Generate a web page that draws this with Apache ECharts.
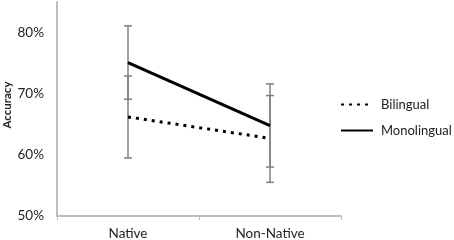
<!DOCTYPE html>
<html>
<head>
<meta charset="utf-8">
<script src="https://cdn.jsdelivr.net/npm/echarts@6/dist/echarts.min.js"></script>
<style>
  html, body { margin: 0; padding: 0; background: #fff; }
  #chart { width: 454px; height: 240px; }
</style>
</head>
<body>
<div id="chart"></div>
<script>
// data (proportion correct)
var categories = ['Native', 'Non-Native']
var bilingual = [0.662, 0.627]
var monolingual = [0.751, 0.648]
// error bar ends
var bilingualLow = [0.595, 0.555]
var bilingualHigh = [0.729, 0.697]
var monolingualLow = [0.691, 0.580]
var monolingualHigh = [0.811, 0.716]

var chart = echarts.init(document.getElementById('chart'))

// whisker with small caps
function errorBar(low, high) {
  return function (params, api) {
    var i = api.value(0)
    var top = api.coord([i, high[i]])
    var bot = api.coord([i, low[i]])
    var cap = 4
    var st = { stroke: '#808080', lineWidth: 1.5 }
    return {
      type: 'group',
      children: [
        { type: 'line', shape: { x1: top[0], y1: top[1], x2: bot[0], y2: bot[1] }, style: st },
        { type: 'line', shape: { x1: top[0] - cap, y1: top[1], x2: top[0] + cap, y2: top[1] }, style: st },
        { type: 'line', shape: { x1: bot[0] - cap, y1: bot[1], x2: bot[0] + cap, y2: bot[1] }, style: st }
      ]
    }
  }
}

var option = {
  animation: false,
  textStyle: { fontFamily: 'Lato' },
  grid: { left: 57, right: 113, top: 2, bottom: 24, outerBoundsMode: 'none' },
  legend: {
    data: ['Bilingual', 'Monolingual'],
    orient: 'vertical',
    left: 340,
    top: 98,
    padding: 0,
    itemWidth: 32,
    itemHeight: 14,
    itemGap: 13,
    itemStyle: { opacity: 0 },
    textStyle: { fontSize: 13, color: '#222', fontFamily: 'Lato', padding: [0, 0, 0, 3] }
  },
  xAxis: {
    type: 'category',
    data: categories,
    axisLine: { lineStyle: { color: '#bdbdbd', width: 2 } },
    axisTick: { show: true, length: 4, lineStyle: { color: '#bdbdbd' } },
    axisLabel: { fontSize: 13.5, color: '#222', margin: 11 }
  },
  yAxis: {
    type: 'value',
    min: 0.5,
    max: 0.85,
    interval: 0.1,
    name: 'Accuracy',
    nameLocation: 'middle',
    nameGap: 44,
    nameMoveOverlap: false,
    nameTextStyle: { fontSize: 11.5, fontWeight: 'bold', color: '#222', padding: [0, 0, 0, 8] },
    axisLine: { show: true, lineStyle: { color: '#bdbdbd', width: 2 } },
    axisTick: { show: false },
    splitLine: { show: false },
    axisLabel: {
      fontSize: 13.5,
      color: '#222',
      margin: 13,
      showMaxLabel: false,
      formatter: function (v) { return Math.round(v * 100) + '%' }
    }
  },
  series: [
    {
      type: 'custom',
      renderItem: errorBar(monolingualLow, monolingualHigh),
      data: categories.map(function (c, i) { return [i] }),
      z: 1
    },
    {
      type: 'custom',
      renderItem: errorBar(bilingualLow, bilingualHigh),
      data: categories.map(function (c, i) { return [i] }),
      z: 1
    },
    {
      name: 'Bilingual',
      type: 'line',
      data: bilingual,
      symbol: 'none',
      itemStyle: { color: '#000' },
      lineStyle: { color: '#000', width: 3, type: [3, 5] },
      z: 3
    },
    {
      name: 'Monolingual',
      type: 'line',
      data: monolingual,
      symbol: 'none',
      itemStyle: { color: '#000' },
      lineStyle: { color: '#000', width: 3 },
      z: 3
    }
  ]
}

chart.setOption(option)
</script>
</body>
</html>
